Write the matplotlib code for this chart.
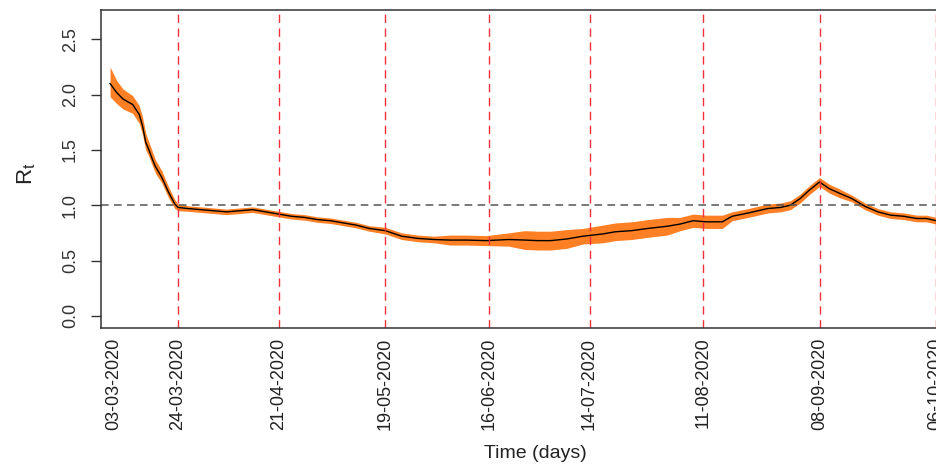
import numpy as np
import matplotlib
matplotlib.use("Agg")
import matplotlib.pyplot as plt

plt.rcParams['font.family'] = ['Liberation Sans', 'DejaVu Sans']

# observation index (days since first estimate) and estimated R_t
days = [0, 2, 4, 7, 9, 10, 11, 12, 13, 14, 16, 18, 20, 21, 24, 28, 32, 36, 40, 44,
        48, 52, 56, 60, 64, 68, 72, 76, 80, 85, 90, 95, 100, 105, 110, 116, 123, 128,
        132, 136, 141, 146, 152, 156, 161, 166, 172, 176, 180, 184, 189, 192, 197,
        203, 207, 210, 213, 216, 219, 222, 225, 229, 233, 237, 241, 245, 249, 252,
        255, 258]
rt_mean = [2.10, 2.02, 1.96, 1.91, 1.82, 1.72, 1.57, 1.50, 1.42, 1.35, 1.25, 1.12,
           1.01, 0.98, 0.97, 0.96, 0.95, 0.94, 0.95, 0.96, 0.94, 0.92, 0.90, 0.89,
           0.87, 0.86, 0.84, 0.82, 0.79, 0.77, 0.72, 0.70, 0.69, 0.685, 0.685, 0.68,
           0.69, 0.685, 0.68, 0.68, 0.695, 0.72, 0.74, 0.76, 0.77, 0.79, 0.81, 0.83,
           0.86, 0.85, 0.85, 0.90, 0.93, 0.97, 0.98, 1.00, 1.06, 1.14, 1.21, 1.15,
           1.11, 1.06, 0.99, 0.94, 0.91, 0.90, 0.88, 0.88, 0.86, 0.85]
rt_upper = [2.25, 2.13, 2.05, 1.99, 1.90, 1.80, 1.65, 1.57, 1.49, 1.41, 1.31, 1.17,
            1.05, 1.01, 0.995, 0.985, 0.975, 0.965, 0.975, 0.985, 0.965, 0.945, 0.925,
            0.915, 0.895, 0.885, 0.865, 0.845, 0.815, 0.80, 0.75, 0.73, 0.72, 0.73,
            0.73, 0.725, 0.75, 0.77, 0.765, 0.765, 0.78, 0.79, 0.82, 0.84, 0.85, 0.87,
            0.89, 0.89, 0.92, 0.91, 0.91, 0.94, 0.97, 1.01, 1.02, 1.04, 1.10, 1.18,
            1.25, 1.19, 1.15, 1.09, 1.02, 0.97, 0.94, 0.93, 0.91, 0.91, 0.89, 0.88]
rt_lower = [1.98, 1.92, 1.87, 1.83, 1.74, 1.64, 1.50, 1.44, 1.36, 1.29, 1.20, 1.07,
            0.97, 0.95, 0.945, 0.935, 0.925, 0.915, 0.925, 0.935, 0.915, 0.895, 0.875,
            0.865, 0.845, 0.835, 0.815, 0.795, 0.765, 0.74, 0.69, 0.67, 0.66, 0.64,
            0.64, 0.635, 0.63, 0.60, 0.595, 0.595, 0.61, 0.65, 0.66, 0.68, 0.69, 0.71,
            0.73, 0.77, 0.80, 0.79, 0.79, 0.86, 0.89, 0.93, 0.94, 0.96, 1.02, 1.10,
            1.17, 1.11, 1.07, 1.03, 0.96, 0.91, 0.88, 0.87, 0.85, 0.85, 0.83, 0.82]

tick_pos = [1, 21, 52, 85, 117, 148, 183, 219, 255]
tick_labels = ['03-03-2020', '24-03-2020', '21-04-2020', '19-05-2020', '16-06-2020',
               '14-07-2020', '11-08-2020', '08-09-2020', '06-10-2020']
y_ticks = [0.0, 0.5, 1.0, 1.5, 2.0, 2.5]

W, H = 937, 466
fig = plt.figure(figsize=(W / 100, H / 100), dpi=100)
# axes runs past the right edge on purpose (the original is cropped there)
ax = fig.add_axes([101 / W, (H - 328) / H, (965 - 101) / W, (328 - 10) / H])

ax.fill_between(days, rt_lower, rt_upper, color='#ff7f24', lw=0)
ax.plot(days, rt_mean, color='black', lw=1.0)

ax.axhline(1.0, color='#555555', lw=1.1, ls=(0, (5, 3.5)))
for p in tick_pos[1:]:
    ax.axvline(p, color='#f0303a', lw=1.0, ls=(0, (6, 4)))

ax.set_xlim(-2.8, 263.9)
ax.set_ylim(-0.11, 2.765)

ax.set_xticks(tick_pos)
ax.set_xticklabels(tick_labels, rotation=90, fontsize=13, color='#222222')
ax.tick_params(axis='x', length=0, pad=7)
ax.set_yticks(y_ticks)
ax.set_yticklabels([f"{v:.1f}" for v in y_ticks], rotation=90, va='center',
                   fontsize=13, color='#333333')
ax.tick_params(axis='y', length=7, width=1.0, color='#333333', pad=9)

for side in ['left', 'top', 'bottom', 'right']:
    ax.spines[side].set_color('#333333')
    ax.spines[side].set_linewidth(1.1)

fig.text(27 / W, 1 - 174 / H, r'$\mathregular{R_t}$', rotation=90, fontsize=16,
         ha='center', va='center', color='#222222')
fig.text(535 / W, 1 - 453 / H, 'Time (days)', fontsize=14, ha='center', va='center',
         color='#222222', family=['Liberation Sans Narrow', 'Liberation Sans'])

fig.savefig('out.png', dpi=100)
